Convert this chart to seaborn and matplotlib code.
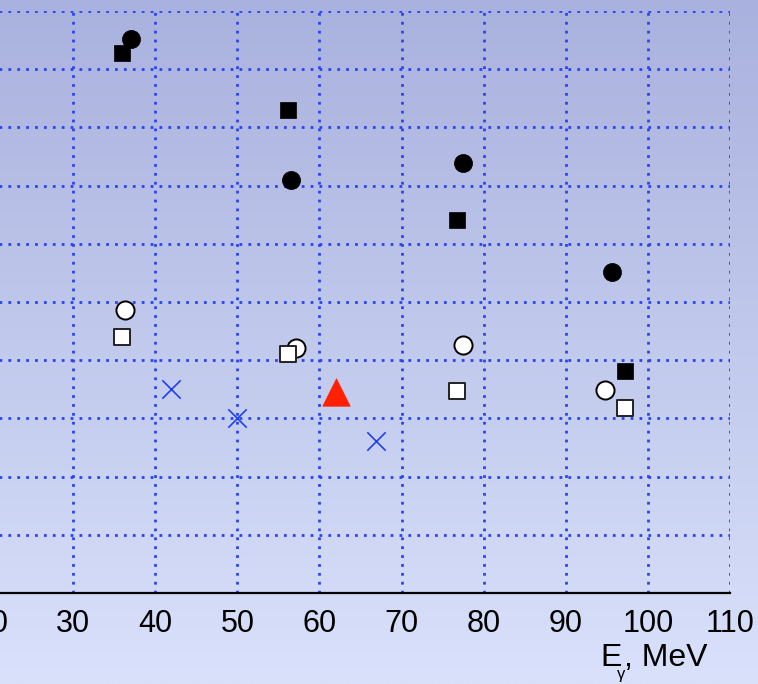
import numpy as np
import pandas as pd
import matplotlib
matplotlib.use("Agg")
import matplotlib.pyplot as plt
import seaborn as sns
from matplotlib.ticker import MultipleLocator

# ---- data (y in grid units) ----
e_filled_circle = [37.0, 56.5, 77.5, 95.6]
y_filled_circle = [9.52, 7.10, 7.39, 5.52]
e_filled_square = [36.0, 56.2, 76.8, 97.2]
y_filled_square = [9.28, 8.30, 6.41, 3.81]
e_open_circle = [36.3, 57.2, 77.5, 94.8]
y_open_circle = [4.86, 4.21, 4.26, 3.49]
e_open_square = [36.0, 56.2, 76.8, 97.2]
y_open_square = [4.40, 4.11, 3.47, 3.18]
e_cross = [41.9, 50.0, 66.9]
y_cross = [3.51, 3.01, 2.61]
e_triangle = [62.0]
y_triangle = [3.45]
x_ticks = [20, 30, 40, 50, 60, 70, 80, 90, 100, 110]

sns.set_style("white")
plt.rcParams['font.family'] = ['Liberation Sans', 'DejaVu Sans']

W, H = 758, 684
fig = plt.figure(figsize=(W / 100, H / 100), dpi=100)

# gradient background
bg = fig.add_axes([0, 0, 1, 1], zorder=-10)
top = np.array([169, 177, 222]) / 255
bot = np.array([217, 225, 251]) / 255
t = np.linspace(0, 1, 256)[:, None]
grad = top[None, :] * (1 - t) + bot[None, :] * t
bg.imshow(grad[:, None, :], aspect='auto', extent=[0, 1, 0, 1])
bg.axis('off')

# main axes: x=20 at -9 px, x=110 at 730 px; y=0 at 593 px, y=10 at 11 px
left = -9 / W
width = (730 + 9) / W
bottom = (H - 593) / H
height = (593 - 11) / H
ax = fig.add_axes([left, bottom, width, height])
ax.patch.set_alpha(0)

def plot(x, y, **kw):
    df = pd.DataFrame({'E': x, 'v': y})
    sns.scatterplot(data=df, x='E', y='v', ax=ax, legend=False, clip_on=False, **kw)

plot(e_open_circle, y_open_circle, marker='o', s=170, color='white', edgecolor='black', linewidth=1.4, zorder=3)
plot(e_open_square, y_open_square, marker='s', s=140, color='white', edgecolor='#222222', linewidth=1.4, zorder=4)
plot(e_filled_square, y_filled_square, marker='s', s=140, color='black', edgecolor='black', linewidth=0.5, zorder=5)
plot(e_filled_circle, y_filled_circle, marker='o', s=170, color='black', edgecolor='black', linewidth=0.5, zorder=6)
plot(e_cross, y_cross, marker='x', s=175, color='#2040f0', linewidth=1.2, zorder=5)
plot(e_triangle, y_triangle, marker='^', s=390, color='#ff2000', edgecolor='#ff2000', linewidth=0.5, zorder=5)

ax.set_xlim(20, 110)
ax.set_ylim(0, 10)
ax.set_xticks(x_ticks)
ax.xaxis.set_minor_locator(MultipleLocator(5))
ax.set_yticks(range(0, 11))
ax.set_yticklabels([])
ax.tick_params(axis='y', length=0)
ax.tick_params(axis='x', which='major', direction='out', length=8.6, width=1.4,
               labelsize=22, pad=3, colors='black')
ax.tick_params(axis='x', which='minor', direction='out', length=4.5, width=1.4)
ax.grid(True, which='major', color='#2a45f0', linestyle=(0, (1.0, 2.2)), linewidth=2.0)
ax.set_axisbelow(True)
for s in ['left', 'right', 'top']:
    ax.spines[s].set_visible(False)
ax.spines['bottom'].set_linewidth(1.6)
ax.spines['bottom'].set_color('black')
ax.set_xlabel('')
ax.set_ylabel('')

# x-axis title: "E" with subscript gamma, then ", MeV"
fig.text(600 / W, (H - 666) / H, 'E', ha='left', va='baseline', fontsize=23, color='black')
fig.text(617 / W, (H - 679) / H, 'γ', ha='left', va='baseline', fontsize=12, color='black')
fig.text(708 / W, (H - 666) / H, ', MeV', ha='right', va='baseline', fontsize=23, color='black')

fig.savefig('out.png', dpi=100)
